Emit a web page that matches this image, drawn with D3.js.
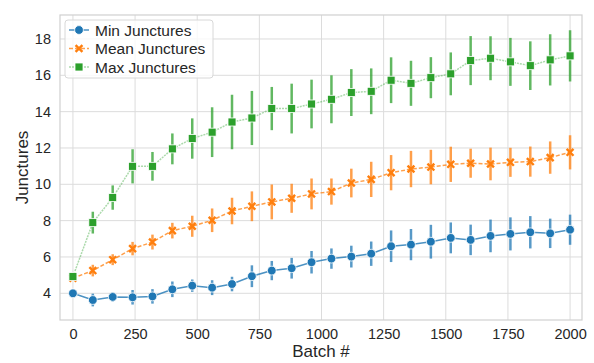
<!DOCTYPE html>
<html>
<head>
<meta charset="utf-8">
<script src="https://cdn.jsdelivr.net/npm/d3@7"></script>
<style>
  body { margin: 0; background: #fff; }
  svg text { font-family: "Liberation Sans", Arial, sans-serif; fill: #262626; }
</style>
</head>
<body>
<div id="chart"></div>
<script>
const batches = [0, 80, 160, 240, 320, 400, 480, 560, 640, 720, 800, 880, 960, 1040, 1120, 1200, 1280, 1360, 1440, 1520, 1600, 1680, 1760, 1840, 1920, 2000];

const minVals = [4.0, 3.63, 3.8, 3.78, 3.83, 4.22, 4.42, 4.31, 4.51, 4.94, 5.25, 5.38, 5.71, 5.91, 6.02, 6.18, 6.59, 6.68, 6.84, 7.05, 6.94, 7.16, 7.27, 7.36, 7.3, 7.5];
const minErr = [0.05, 0.35, 0.26, 0.4, 0.4, 0.43, 0.34, 0.41, 0.4, 0.6, 0.53, 0.57, 0.62, 0.56, 0.6, 0.67, 0.87, 0.86, 0.93, 0.85, 0.84, 0.9, 0.91, 0.89, 0.81, 0.83];

const meanVals = [4.83, 5.25, 5.85, 6.46, 6.82, 7.45, 7.69, 8.02, 8.53, 8.79, 9.03, 9.23, 9.47, 9.6, 10.07, 10.27, 10.64, 10.84, 10.95, 11.1, 11.16, 11.12, 11.21, 11.25, 11.47, 11.76];
const meanErr = [0.12, 0.32, 0.3, 0.37, 0.41, 0.43, 0.58, 0.65, 0.73, 0.82, 0.96, 0.8, 0.85, 0.72, 0.79, 0.97, 0.97, 1.0, 0.95, 0.97, 0.8, 0.9, 0.8, 0.83, 0.89, 0.94];

const maxVals = [4.92, 7.89, 9.27, 10.99, 10.99, 11.95, 12.52, 12.87, 13.43, 13.65, 14.17, 14.17, 14.42, 14.68, 15.05, 15.12, 15.73, 15.56, 15.87, 16.08, 16.81, 16.94, 16.74, 16.53, 16.85, 17.07];
const maxErr = [0.08, 0.6, 0.67, 0.94, 0.79, 0.85, 1.11, 1.37, 1.5, 1.49, 1.19, 1.37, 1.34, 1.32, 1.29, 1.26, 1.26, 1.24, 1.13, 1.18, 1.35, 1.21, 1.32, 1.34, 1.41, 1.41];

const xTicks = [0, 250, 500, 750, 1000, 1250, 1500, 1750, 2000];
const yTicks = [4, 6, 8, 10, 12, 14, 16, 18];

const series = [
    { name: 'Min Junctures', vals: minVals, err: minErr, color: '#1f77b4', marker: 'circle', dash: null, lineOpacity: 0.8 },
    { name: 'Mean Junctures', vals: meanVals, err: meanErr, color: '#ff7f0e', marker: 'x', dash: '4,2', lineOpacity: 0.75 },
    { name: 'Max Junctures', vals: maxVals, err: maxErr, color: '#2ca02c', marker: 'square', dash: '2,1', lineOpacity: 0.4 }
];

const width = 594, height = 363;
const margin = { top: 15, right: 12, bottom: 43, left: 60 };

const svg = d3.select('#chart').append('svg')
    .attr('width', width)
    .attr('height', height);

const x = d3.scaleLinear()
    .domain([-52, 2048])
    .range([margin.left, width - margin.right]);

const y = d3.scaleLinear()
    .domain([2.53, 19.32])
    .range([height - margin.bottom, margin.top]);

// grid
const grid = svg.append('g').attr('class', 'grid');
grid.selectAll('.vgrid')
    .data(xTicks)
    .enter().append('line')
    .attr('x1', d => x(d)).attr('x2', d => x(d))
    .attr('y1', margin.top).attr('y2', height - margin.bottom)
    .style('stroke', '#dcdcdc')
    .style('stroke-width', 1);
grid.selectAll('.hgrid')
    .data(yTicks)
    .enter().append('line')
    .attr('y1', d => y(d)).attr('y2', d => y(d))
    .attr('x1', margin.left).attr('x2', width - margin.right)
    .style('stroke', '#dcdcdc')
    .style('stroke-width', 1);

svg.append('rect')
    .attr('x', margin.left)
    .attr('y', margin.top)
    .attr('width', width - margin.left - margin.right)
    .attr('height', height - margin.top - margin.bottom)
    .style('fill', 'none')
    .style('stroke', '#d0d0d0')
    .style('stroke-width', 1.2);

// axes
const xAxis = svg.append('g')
    .attr('transform', `translate(0,${height - margin.bottom})`)
    .call(d3.axisBottom(x).tickValues(xTicks).tickFormat(d3.format('d')).tickSize(0).tickPadding(9));
const yAxis = svg.append('g')
    .attr('transform', `translate(${margin.left},0)`)
    .call(d3.axisLeft(y).tickValues(yTicks).tickFormat(d3.format('d')).tickSize(0).tickPadding(9));
[xAxis, yAxis].forEach(a => {
    a.select('.domain').remove();
    a.selectAll('text').style('font-size', '14.5px').style('fill', '#262626');
});

svg.append('text')
    .attr('x', (margin.left + width - margin.right) / 2)
    .attr('y', height - 6)
    .attr('text-anchor', 'middle')
    .style('font-size', '17px')
    .text('Batch #');

svg.append('text')
    .attr('transform', `translate(28,${(margin.top + height - margin.bottom) / 2}) rotate(-90)`)
    .attr('text-anchor', 'middle')
    .style('font-size', '17px')
    .text('Junctures');

function drawMarker(g, type, color, size) {
    if (type === 'circle') {
        g.append('circle').attr('r', size * 0.55)
            .style('fill', color).style('stroke', '#fff').style('stroke-width', 0.8);
    } else if (type === 'square') {
        g.append('rect')
            .attr('x', -size / 2).attr('y', -size / 2)
            .attr('width', size).attr('height', size)
            .style('fill', color).style('stroke', '#fff').style('stroke-width', 0.8);
    } else {
        g.append('path')
            .attr('d', d3.symbol().type(d3.symbolX).size(size * size * 0.9)())
            .style('fill', 'none').style('stroke', color).style('stroke-width', 2.4);
    }
}

const line = d3.line().x(d => x(d[0])).y(d => y(d[1]));

series.forEach(s => {
    const pts = batches.map((b, i) => [b, s.vals[i], s.err[i]]);
    const g = svg.append('g');

    g.append('path')
        .datum(pts)
        .attr('d', line)
        .style('fill', 'none')
        .style('stroke', s.color)
        .style('stroke-opacity', s.lineOpacity)
        .style('stroke-width', 1.5)
        .style('stroke-dasharray', s.dash);

    g.selectAll('.err')
        .data(pts)
        .enter().append('line')
        .attr('x1', d => x(d[0])).attr('x2', d => x(d[0]))
        .attr('y1', d => y(d[1] - d[2])).attr('y2', d => y(d[1] + d[2]))
        .style('stroke', s.color)
        .style('stroke-opacity', 0.75)
        .style('stroke-width', 2.5);

    g.selectAll('.mk')
        .data(pts)
        .enter().append('g')
        .attr('transform', d => `translate(${x(d[0])},${y(d[1])})`)
        .each(function() { drawMarker(d3.select(this), s.marker, s.color, s.marker === 'x' ? 6 : 8); });
});

// legend
const legend = svg.append('g').attr('transform', 'translate(65,20)');
legend.append('rect')
    .attr('width', 148).attr('height', 58)
    .attr('rx', 3)
    .style('fill', '#fff').style('fill-opacity', 0.8)
    .style('stroke', '#d8d8d8');
series.forEach((s, i) => {
    const row = legend.append('g').attr('transform', `translate(0,${10 + i * 18.5})`);
    row.append('line')
        .attr('x1', 4).attr('x2', 24)
        .style('stroke', s.color)
        .style('stroke-opacity', s.lineOpacity)
        .style('stroke-width', 1.5)
        .style('stroke-dasharray', s.dash);
    const m = row.append('g').attr('transform', 'translate(14,0)');
    drawMarker(m, s.marker, s.color, s.marker === 'x' ? 6 : 8);
    row.append('text')
        .attr('x', 30).attr('y', 5.5)
        .style('font-size', '15.5px')
        .text(s.name);
});
</script>
</body>
</html>
